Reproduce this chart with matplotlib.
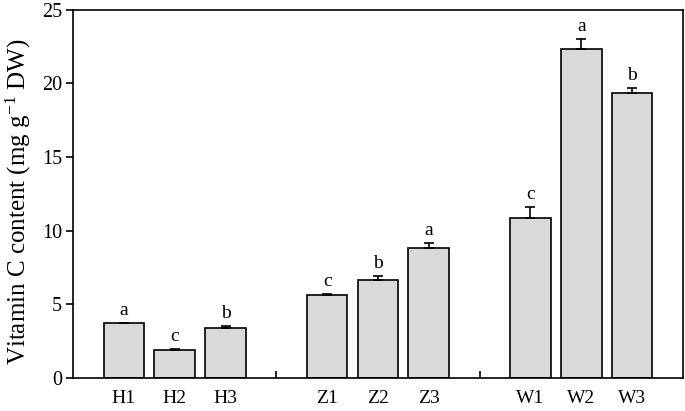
import matplotlib
matplotlib.use("Agg")
from matplotlib import pyplot as plt
import numpy as np

# data
labels = ["H1", "H2", "H3", "Z1", "Z2", "Z3", "W1", "W2", "W3"]
positions = [0, 1, 2, 4, 5, 6, 8, 9, 10]
values = [3.71, 1.91, 3.41, 5.59, 6.66, 8.79, 10.87, 22.34, 19.32]
errors = [0.02, 0.03, 0.10, 0.07, 0.26, 0.37, 0.75, 0.70, 0.38]
letters = ["a", "c", "b", "c", "b", "a", "c", "a", "b"]

plt.rcParams['font.family'] = ['Liberation Serif', 'DejaVu Serif']
plt.rcParams['mathtext.fontset'] = 'custom'
plt.rcParams['mathtext.rm'] = 'Liberation Serif'
plt.rcParams['mathtext.it'] = 'Liberation Serif:italic'

fig = plt.figure(figsize=(6.85, 4.11), dpi=100)
ax = fig.add_axes([0.1066, 0.081, 0.8904, 0.895])

ax.bar(positions, values, width=0.8, color='#d9d9d9', edgecolor='black',
       linewidth=1.2, zorder=2)
ax.errorbar(positions, values, yerr=[np.zeros(len(errors)), errors],
            fmt='none', ecolor='black', elinewidth=1.2, capsize=3.5,
            capthick=1.2, zorder=3)

for x, v, e, t in zip(positions, values, errors, letters):
    ax.annotate(t, (x, v + e), xytext=(0, 3), textcoords='offset points',
                ha='center', va='bottom', fontsize=14)

ax.set_xlim(-1, 11)
ax.set_ylim(0, 25)
ax.set_yticks([0, 5, 10, 15, 20, 25])
ax.tick_params(axis='y', direction='out', length=5, width=1.2,
               labelsize=14.5, pad=3)

ax.set_xticks(positions)
ax.set_xticklabels(labels)
ax.tick_params(axis='x', which='major', length=0, labelsize=14, pad=9)
ax.set_xticks([3, 7], minor=True)
ax.tick_params(axis='x', which='minor', direction='in', length=5, width=1.2)

for s in ax.spines.values():
    s.set_linewidth(1.2)

ax.set_ylabel("Vitamin C content (mg g$^{\\mathregular{-1}}$ DW)", fontsize=18)
ax.yaxis.set_label_coords(-0.066, 0.478)

fig.savefig("out.png", dpi=100)
